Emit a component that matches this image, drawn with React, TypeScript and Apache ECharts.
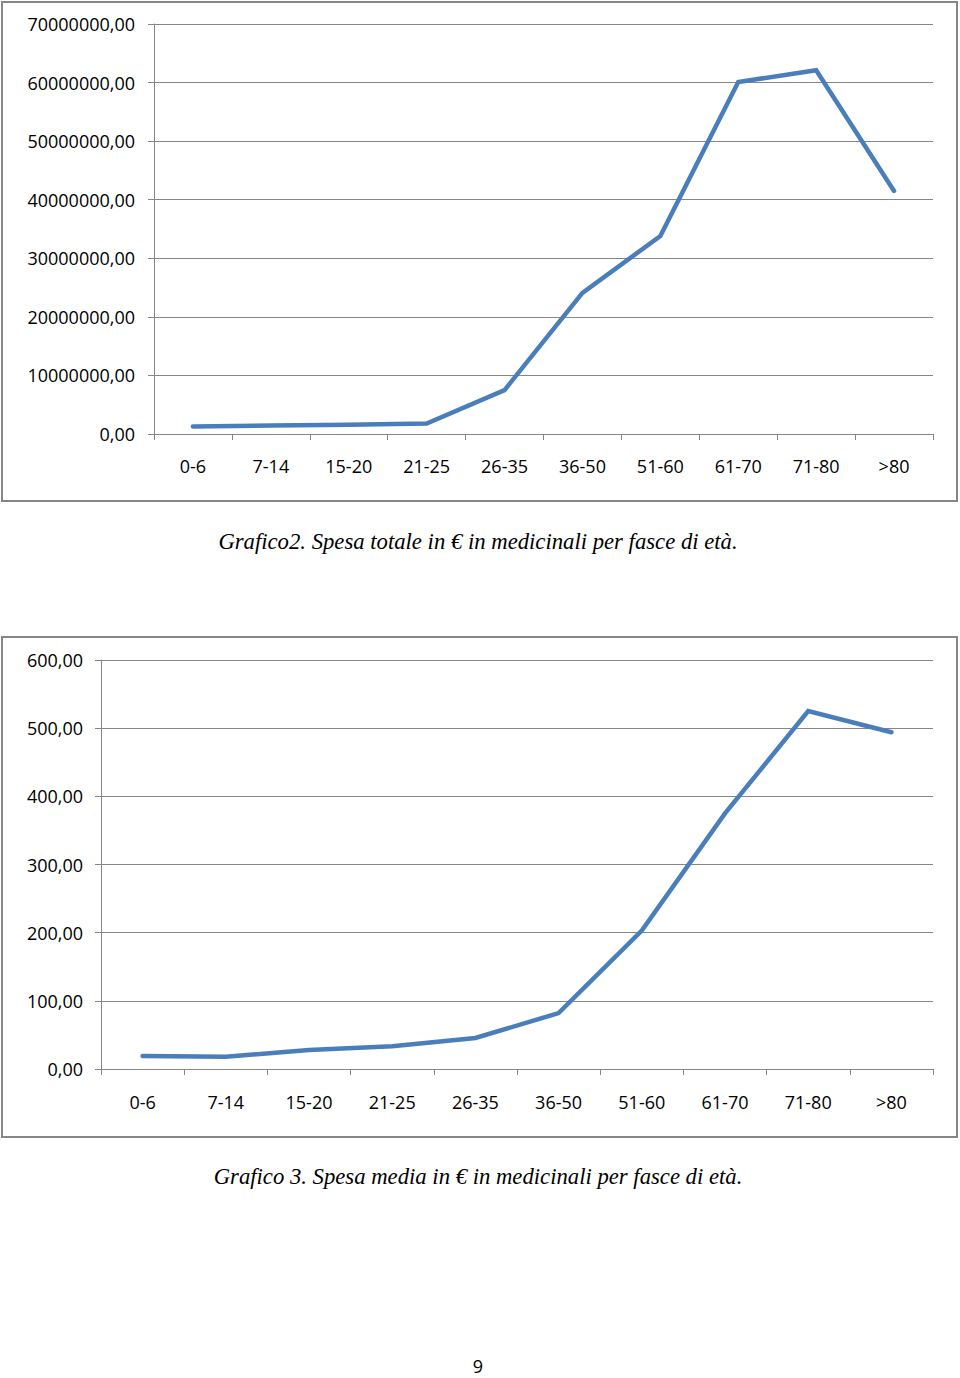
import React, { useEffect, useRef } from "react";
import * as echarts from "echarts";

const categories = ["0-6", "7-14", "15-20", "21-25", "26-35", "36-50", "51-60", "61-70", "71-80", ">80"];
const totalSpend = [1300000, 1450000, 1600000, 1800000, 7500000, 24100000, 33800000, 60100000, 62100000, 41500000];
const averageSpend = [19, 18, 28, 33.5, 45.5, 82, 203, 375, 525, 494];
const caption1 = "Grafico2. Spesa totale in € in medicinali per fasce di età.";
const caption2 = "Grafico 3. Spesa media in € in medicinali per fasce di età.";
const pageNumber = "9";

const fmt = (v: number) => v.toFixed(2).replace(".", ",");

export default function App() {
  const ref = useRef<HTMLDivElement>(null);
  useEffect(() => {
    if (!ref.current) return;
    const chart = echarts.init(ref.current, null, { renderer: "svg" });
    const gray = "#868686";
    const labelFont = { color: "#000", fontFamily: "Open Sans", fontSize: 18 };
    const xAxisCommon = {
      type: "category" as const,
      data: categories,
      boundaryGap: true,
      axisLine: { lineStyle: { color: gray, width: 1 } },
      axisTick: { show: true, length: 6, lineStyle: { color: gray } },
      axisLabel: { ...labelFont, margin: 23, interval: 0 },
      splitLine: { show: false },
    };
    const yAxisCommon = {
      type: "value" as const,
      min: 0,
      axisLine: { show: true, lineStyle: { color: gray, width: 1 } },
      axisTick: { show: true, length: 6, lineStyle: { color: gray } },
      splitLine: { show: true, lineStyle: { color: gray, width: 1 } },
    };
    chart.setOption({
      animation: false,
      backgroundColor: "#fff",
      grid: [
        { left: 154, top: 24, width: 779, height: 410 },
        { left: 101, top: 660, width: 832, height: 409 },
      ],
      xAxis: [
        { ...xAxisCommon, gridIndex: 0 },
        { ...xAxisCommon, gridIndex: 1, axisLabel: { ...labelFont, margin: 24, interval: 0 } },
      ],
      yAxis: [
        {
          ...yAxisCommon,
          gridIndex: 0,
          max: 70000000,
          interval: 10000000,
          axisLabel: { ...labelFont, margin: 19, formatter: fmt },
        },
        {
          ...yAxisCommon,
          gridIndex: 1,
          max: 600,
          interval: 100,
          axisLabel: { ...labelFont, margin: 18, formatter: fmt },
        },
      ],
      series: [
        {
          type: "line",
          xAxisIndex: 0,
          yAxisIndex: 0,
          data: totalSpend,
          showSymbol: false,
          symbol: "none",
          lineStyle: { color: "#4A7EBB", width: 4.5, cap: "round", join: "miter" },
        },
        {
          type: "line",
          xAxisIndex: 1,
          yAxisIndex: 1,
          data: averageSpend,
          showSymbol: false,
          symbol: "none",
          lineStyle: { color: "#4A7EBB", width: 4.5, cap: "round", join: "miter" },
        },
      ],
      graphic: [
        {
          type: "rect",
          shape: { x: 2, y: 2, width: 955, height: 499 },
          style: { fill: "none", stroke: gray, lineWidth: 2 },
          silent: true,
        },
        {
          type: "rect",
          shape: { x: 2, y: 637, width: 955, height: 500 },
          style: { fill: "none", stroke: gray, lineWidth: 2 },
          silent: true,
        },
        {
          type: "text",
          x: 478,
          y: 541,
          style: {
            text: caption1,
            fill: "#000",
            font: "italic 22.7px 'Liberation Serif'",
            align: "center",
            verticalAlign: "middle",
          },
        },
        {
          type: "text",
          x: 478,
          y: 1176,
          style: {
            text: caption2,
            fill: "#000",
            font: "italic 22.7px 'Liberation Serif'",
            align: "center",
            verticalAlign: "middle",
          },
        },
        {
          type: "text",
          x: 478,
          y: 1366,
          style: {
            text: pageNumber,
            fill: "#000",
            font: "18px 'Open Sans'",
            align: "center",
            verticalAlign: "middle",
          },
        },
      ],
    });
    return () => chart.dispose();
  }, []);
  return (
    <div
      ref={ref}
      style={{ position: "absolute", left: 0, top: 0, width: 960, height: 1378 }}
    />
  );
}
